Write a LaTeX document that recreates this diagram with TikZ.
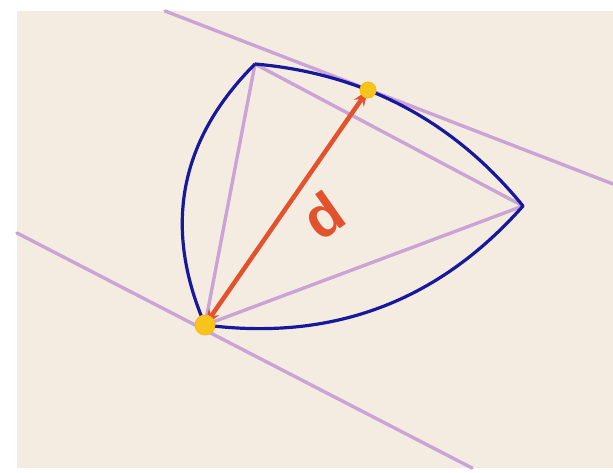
\documentclass[tikz,border=0pt]{standalone}
\usepackage{fontspec}
\setmainfont{Liberation Sans}
\usetikzlibrary{arrows.meta}
\definecolor{bgbeige}{RGB}{244,236,225}
\definecolor{arcblue}{RGB}{24,24,156}
\definecolor{lilac}{RGB}{202,164,214}
\definecolor{dorange}{RGB}{226,82,44}
\definecolor{dotyellow}{RGB}{246,196,26}
\tikzset{
  guide/.style={draw=lilac, line width=3.4pt, line cap=round},
  reuleaux/.style={draw=arcblue, line width=3.2pt, line join=round},
  measure/.style={draw=dorange, line width=4.5pt, {Stealth[length=16pt,width=12pt]}-{Stealth[length=16pt,width=12pt]}},
  touchdot/.style={fill=dotyellow, draw=dotyellow!85!orange, line width=0.8pt}
}
\begin{document}
\begin{tikzpicture}[x=1pt,y=1pt]
\useasboundingbox (0,0) rectangle (613,473);
\fill[white] (0,0) rectangle (613,473);
\fill[bgbeige] (17,5) rectangle (613,462);
% vertices and contact points
\coordinate (A) at (255,409);
\coordinate (B) at (205,148);
\coordinate (C) at (523,267);
\coordinate (P) at (368,383);
\coordinate (T1) at (165,462);
\coordinate (T2) at (613,289);
\coordinate (L1) at (17,240);
\coordinate (L2) at (472,5);
% supporting lines
\draw[guide] (T1) -- (T2);
\draw[guide] (L1) -- (L2);
% triangle
\draw[guide] (A) -- (B);
\draw[guide] (A) -- (C);
\draw[guide] (B) -- (C);
% Reuleaux arcs
\draw[reuleaux] (A) .. controls (179.4,333.3) and (162.7,246.3) .. (B)
  .. controls (332.1,131.5) and (438.1,171.1) .. (C)
  .. controls (453.7,352.1) and (364.3,399.4) .. (A);
% width arrow
\draw[measure] (P) -- (B);
\node[text=dorange, font=\fontsize{58}{58}\selectfont\bfseries, rotate=35] (lbl) at (323,258) {d};
% contact dots
\fill[touchdot] (P) circle (8);
\fill[touchdot] (B) circle (10);
\end{tikzpicture}
\end{document}
